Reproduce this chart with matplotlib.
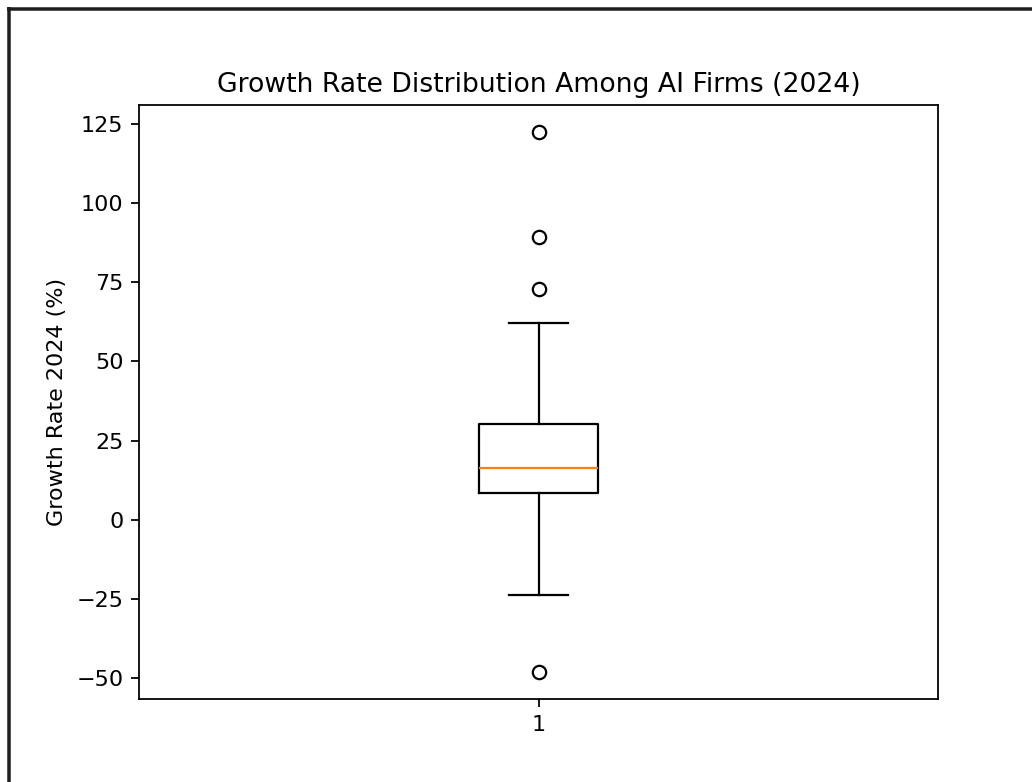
import matplotlib
matplotlib.use("Agg")
import matplotlib.pyplot as plt
from matplotlib.lines import Line2D

# Values
category_labels = ["1"]
median = [16.5]
q1 = [8.6]
q3 = [30.4]
whisker_low = [-23.8]
whisker_high = [62.2]
outliers = [[122.5, 89.4, 73.0, -48.1]]

title = "Growth Rate Distribution Among AI Firms (2024)"
ylabel = "Growth Rate 2024 (%)"

W, H = 1032, 782
DPI = 160
fig = plt.figure(figsize=(W / DPI, H / DPI), dpi=DPI)
fig.patch.set_facecolor("white")

# axes placement in pixels (left, top, right, bottom)
L, T, R, B = 139, 105, 938, 699
ax = fig.add_axes([L / W, 1 - B / H, (R - L) / W, (B - T) / H])

stats = []
for i in range(len(category_labels)):
    stats.append(dict(med=median[i], q1=q1[i], q3=q3[i],
                      whislo=whisker_low[i], whishi=whisker_high[i],
                      fliers=outliers[i], label=category_labels[i]))
ax.bxp(stats, positions=[1])
ax.set_title(title)
ax.set_ylabel(ylabel)

# screenshot frame (left and top edges)
lw = 3.5 * 72 / DPI
fig.add_artist(Line2D([8.5 / W, 8.5 / W], [0, 1 - 7 / H], transform=fig.transFigure,
                      color="#1e1e1e", lw=lw, solid_capstyle="butt"))
fig.add_artist(Line2D([7 / W, 1], [1 - 9 / H, 1 - 9 / H], transform=fig.transFigure,
                      color="#1e1e1e", lw=lw, solid_capstyle="butt"))

fig.savefig("out.png", dpi=DPI)
